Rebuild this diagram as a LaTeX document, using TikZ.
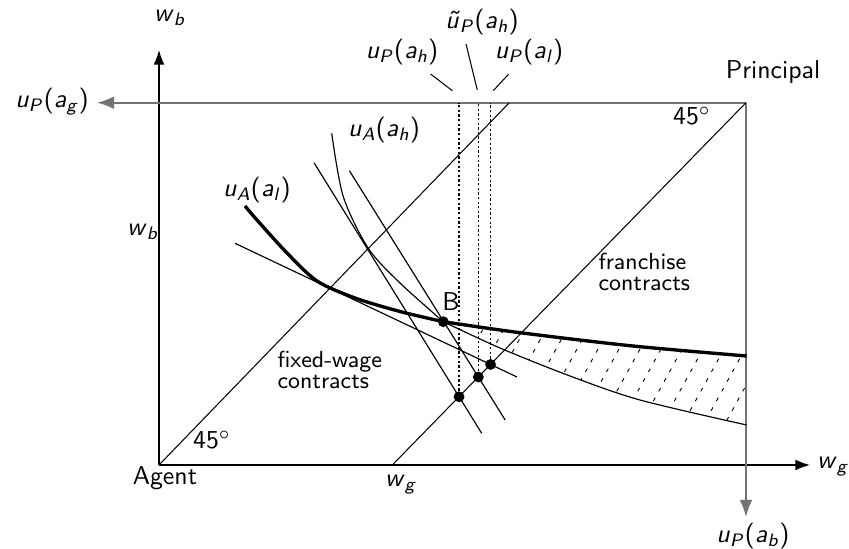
\documentclass[tikz,border=0pt]{standalone}
\usepackage{amsmath}
\usetikzlibrary{arrows.meta,positioning,calc}
\newcommand{\fv}[4]{\textit{#1}\textsubscript{\textit{#2}}(\textit{#3}\textsubscript{\textit{#4}})}
\newcommand{\wv}[1]{\textit{w}\textsubscript{\textit{#1}}}
\begin{document}
\begin{tikzpicture}[x=0.3875pt,y=-0.3875pt,font=\sffamily,>=Latex,
 axis/.style={->,line width=0.6pt},
 oaxis/.style={->,line width=0.8pt,black!55},
 guide/.style={line width=0.4pt},
 icurve/.style={line width=0.45pt},
 kcurve/.style={line width=1.3pt},
 iso/.style={line width=0.45pt},
 proj/.style={dash pattern=on 0.9pt off 0.9pt,line width=0.5pt},
 leader/.style={line width=0.4pt},
 spot/.style={circle,fill=black,inner sep=0pt,minimum size=4.2pt},
 note/.style={font=\sffamily\fontsize{9}{7.8}\selectfont,align=left,anchor=west,inner sep=0pt}]
\useasboundingbox (0,0) rectangle (849,549);

\coordinate (agent) at (159,465);
\coordinate (principal) at (746,102.7);
\coordinate (wbend) at (159,50);
\coordinate (wgend) at (810,465);
\coordinate (ugend) at (97,102.7);
\coordinate (ubend) at (746,517);
\coordinate (atop) at (509.3,102.7);
\coordinate (pbot) at (393.3,464);

% hatched set between the two agent curves
\begin{scope}
\clip plot[smooth] coordinates {(443.3,321.7) (520,332.7) (633,346) (746.7,356)}
 -- plot[smooth] coordinates {(746.7,425) (640,400) (570,376) (500,348) (443.3,321.7)} -- cycle;
\foreach \x in {380,401,...,780}
 \draw[dash pattern=on 1.5pt off 2.8pt,line width=0.35pt] (\x,440) -- ++(66,-120);
\end{scope}

\draw[axis] (agent) -- (wbend);
\draw[axis] (agent) -- (wgend);
\draw[oaxis] (principal) -- (ugend);
\draw[oaxis] (principal) -- (ubend);
\draw[guide] (agent) -- (atop);
\draw[guide] (principal) -- (pbot);

\node (wbtop) at (170,18) {\wv{b}};
\node (wbleft) at (143,232) {\wv{b}};
\node (ugl) at (52,102) {\fv{u}{P}{a}{g}};
\node (ubl) at (753,536) {\fv{u}{P}{a}{b}};
\node (wgright) at (833,467) {\wv{g}};
\node (wgbot) at (401,485) {\wv{g}};
\node (prin) at (773,72) {Principal};
\node (agt) at (165,478) {Agent};
\node (degp) at (692,116) {45$^\circ$};
\node (dega) at (212,440) {45$^\circ$};

% agent indifference curves
\draw[kcurve] plot[smooth] coordinates {(245,206) (257,220) (287,253) (317,281) (355,298) (400,311.5) (443.3,321.7)};
\draw[kcurve] plot[smooth] coordinates {(443.3,321.7) (520,332.7) (633,346) (746.7,356)};
\draw[icurve] plot[smooth] coordinates {(331.7,133.3) (343.3,196.7) (368.3,248.3) (400,283) (443.3,321.7)};
\draw[icurve] plot[smooth] coordinates {(443.3,321.7) (500,348) (570,376) (640,400) (746.7,425)};
\node (ual) at (257,190) {\fv{u}{A}{a}{l}};
\node (uah) at (384,130) {\fv{u}{A}{a}{h}};

% principal iso-profit lines
\coordinate (la1) at (314,162.7);
\coordinate (la2) at (481.7,433.3);
\coordinate (lc1) at (349.4,170.7);
\coordinate (lc2) at (505.2,420);
\coordinate (lf1) at (235,243.3);
\coordinate (lf2) at (517,377);
\draw[iso] (la1) -- (la2);
\draw[iso] (lc1) -- (lc2);
\draw[iso] (lf1) -- (lf2);

\node[spot] (d1) at (intersection of la1--la2 and principal--pbot) {};
\node[spot] (d2) at (intersection of lc1--lc2 and principal--pbot) {};
\node[spot] (d3) at (intersection of lf1--lf2 and principal--pbot) {};
\node[spot] (B) at (443.3,321.7) {};
\node (blabel) at (451,302) {B};

\draw[proj] (d1) -- (d1 |- principal);
\draw[proj] (d2) -- (d2 |- principal);
\draw[proj] (d3) -- (d3 |- principal);

\node (uph) at (402,52) {\fv{u}{P}{a}{h}};
\node (utp) at (482,22) {\fv{\~{u}}{P}{a}{h}};
\node (upl) at (529,52) {\fv{u}{P}{a}{l}};
\coordinate (uphend) at (452.3,90.7);
\coordinate (utpend) at (477.3,90);
\coordinate (uplend) at (493.3,90.7);
\draw[leader] (uph) -- (uphend);
\draw[leader] ($(utp.south)+(-16,0)$) -- (utpend);
\draw[leader] (upl) -- (uplend);

\node[note] (fixed) at (277,370) {fixed-wage\\contracts};
\node[note] (franch) at (598,272) {franchise\\contracts};
\end{tikzpicture}
\end{document}
